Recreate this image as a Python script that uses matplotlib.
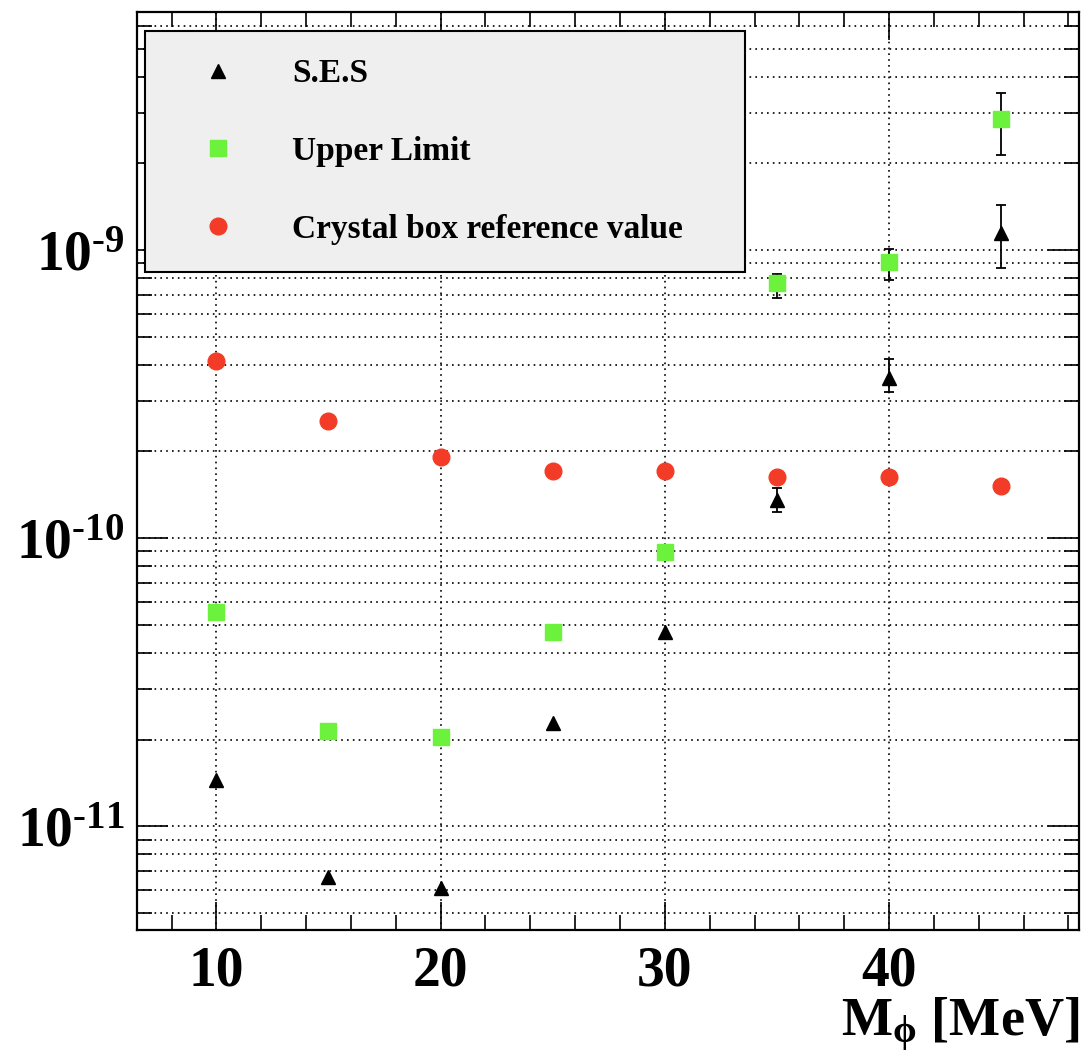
import numpy as np
import matplotlib
matplotlib.use("Agg")
import matplotlib.pyplot as plt
from matplotlib.ticker import FixedLocator, NullFormatter, FuncFormatter

# ---- data ----
mass = [10, 15, 20, 25, 30, 35, 40, 45]
ses = [1.45e-11, 6.7e-12, 6.1e-12, 2.28e-11, 4.72e-11, 1.355e-10, 3.59e-10, 1.146e-9]
ses_lo = [np.nan, np.nan, np.nan, np.nan, np.nan, 1.23e-10, 3.21e-10, 8.66e-10]
ses_hi = [np.nan, np.nan, np.nan, np.nan, np.nan, 1.49e-10, 4.19e-10, 1.43e-9]
upper = [5.53e-11, 2.15e-11, 2.04e-11, 4.72e-11, 8.94e-11, 7.68e-10, 9.08e-10, 2.85e-9]
upper_lo = [np.nan, np.nan, np.nan, np.nan, np.nan, 6.81e-10, 7.87e-10, 2.14e-9]
upper_hi = [np.nan, np.nan, np.nan, np.nan, np.nan, 8.26e-10, 1.008e-9, 3.51e-9]
crystal = [4.12e-10, 2.55e-10, 1.91e-10, 1.71e-10, 1.71e-10, 1.63e-10, 1.63e-10, 1.52e-10]
labels = ["S.E.S", "Upper Limit", "Crystal box reference value"]
xticks_major = [10, 20, 30, 40]
yticks_major = [1e-11, 1e-10, 1e-9]

plt.rcParams['font.family'] = ['Liberation Serif', 'DejaVu Serif']
plt.rcParams['font.weight'] = 'bold'
plt.rcParams['mathtext.fontset'] = 'custom'
plt.rcParams['mathtext.rm'] = 'Liberation Serif:bold'
plt.rcParams['mathtext.bf'] = 'Liberation Serif:bold'
plt.rcParams['mathtext.it'] = 'Liberation Serif:italic:bold'

fig = plt.figure(figsize=(10.83, 10.53), dpi=100)
ax = fig.add_axes([137/1083, 1-930/1053, (1079-137)/1083, (930-12)/1053])
ax.set_yscale('log')
ax.set_xlim(6.46, 48.47)
ax.set_ylim(4.37e-12, 6.7e-9)

GREEN = '#6cf23c'
RED = '#f23c28'

def err_plot(x, y, lo, hi):
    x = np.asarray(x, float); y = np.asarray(y, float)
    lo = np.asarray(lo, float); hi = np.asarray(hi, float)
    m = np.isfinite(lo)
    ax.errorbar(x[m], y[m], yerr=[y[m]-lo[m], hi[m]-y[m]], fmt='none',
                ecolor='black', elinewidth=1.3, capsize=3.8, capthick=1.3, zorder=3)

err_plot(mass, ses, ses_lo, ses_hi)
err_plot(mass, upper, upper_lo, upper_hi)

ax.plot(mass, ses, linestyle='none', marker='^', ms=10.5, color='black', zorder=5, label=labels[0])
ax.plot(mass, upper, linestyle='none', marker='s', ms=12, color=GREEN, zorder=5, label=labels[1])
ax.plot(mass, crystal, linestyle='none', marker='o', ms=12, color=RED, zorder=5, label=labels[2])

# ticks
ax.xaxis.set_major_locator(FixedLocator(xticks_major))
ax.xaxis.set_minor_locator(FixedLocator(np.arange(8, 49, 2)))
ax.yaxis.set_major_locator(FixedLocator(yticks_major))
yminor = [m * d for d in [1e-12, 1e-11, 1e-10, 1e-9] for m in range(2, 10)]
yminor = [v for v in yminor if 4.37e-12 <= v <= 6.7e-9]
ax.yaxis.set_minor_locator(FixedLocator(yminor))
ax.yaxis.set_minor_formatter(NullFormatter())

def yfmt(v, pos):
    e = int(np.round(np.log10(v)))
    return r'$\mathbf{10^{\text{-}%d}}$' % abs(e)
ax.yaxis.set_major_formatter(FuncFormatter(yfmt))

ax.tick_params(which='both', direction='in', top=True, right=True, width=1.2, color='black')
ax.tick_params(axis='x', which='major', length=20, pad=11, labelsize=40)
ax.tick_params(axis='x', which='minor', length=11)
ax.tick_params(axis='y', which='major', length=22, pad=9, labelsize=40)
ax.tick_params(axis='y', which='minor', length=11)
for lab in ax.get_xticklabels():
    lab.set_fontweight('bold')

for s in ax.spines.values():
    s.set_linewidth(1.6)

# grid
ax.grid(True, axis='x', which='major', linestyle=(0, (1, 2.5)), color='black', linewidth=1.2)
ax.grid(True, axis='y', which='both', linestyle=(0, (1, 2.5)), color='black', linewidth=1.2)
ax.set_axisbelow(True)

ax.set_xlabel(r'M$_{\mathrm{\phi}}$ [MeV]', loc='right', fontsize=39, fontweight='bold', labelpad=-1)

leg = ax.legend(loc='upper left', bbox_to_anchor=((145-137)/942, (930-31)/918, (745-145)/942, 0.0),
                mode='expand', fontsize=24, frameon=True, fancybox=False, framealpha=1,
                facecolor='#efefef', edgecolor='black', borderpad=0.82, labelspacing=1.4,
                handlelength=2.75, handletextpad=0.84, borderaxespad=0)
leg.get_frame().set_linewidth(1.5)
for t in leg.get_texts():
    t.set_fontweight('bold')
leg.set_zorder(10)

fig.savefig('out.png', dpi=100)
